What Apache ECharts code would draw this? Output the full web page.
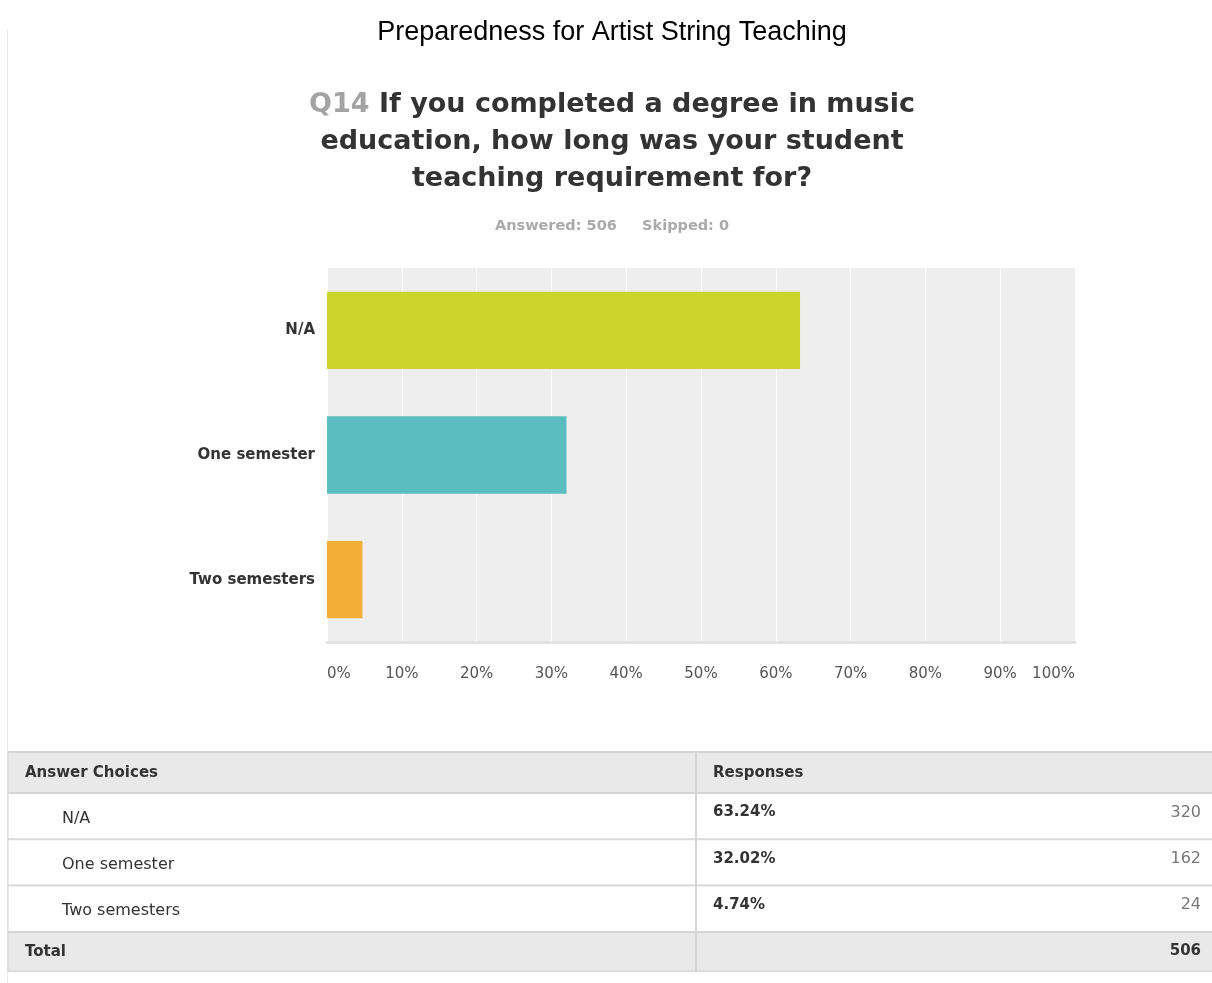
<!DOCTYPE html>
<html>
<head>
<meta charset="utf-8">
<script src="https://cdn.jsdelivr.net/npm/echarts@6/dist/echarts.min.js"></script>
<style>
  html, body { margin: 0; padding: 0; background: #ffffff; }
  #chart { width: 1212px; height: 983px; }
</style>
</head>
<body>
<div id="chart"></div>
<script>
// Survey question and summary
const chartTitle = 'Preparedness for Artist String Teaching';
const questionNo = 'Q14';
const questionLines = [
  'If you completed a degree in music',
  'education, how long was your student',
  'teaching requirement for?'
];
const answered = 506;
const skipped = 0;

// Answer choices and results
const categories = ['N/A', 'One semester', 'Two semesters'];
const percents = [63.24, 32.02, 4.74];
const counts = [320, 162, 24];
const total = 506;
const barColors = ['#cdd42c', '#5bbdbf', '#f2ae36'];

// Table headings
const tableHeads = ['Answer Choices', 'Responses'];
const totalLabel = 'Total';

const FONT = '"DejaVu Sans", sans-serif';
const chart = echarts.init(document.getElementById('chart'), null, { renderer: 'canvas' });

// ---- text block above the plot ----
const graphics = [];
graphics.push({
  type: 'line', silent: true,
  shape: { x1: 7.5, y1: 30, x2: 7.5, y2: 983 },
  style: { stroke: '#ebebeb', lineWidth: 1 }
});
graphics.push({
  type: 'text', x: 612, y: 33,
  style: {
    text: chartTitle, font: '27px "Liberation Sans", Arial, sans-serif',
    fill: '#000', textAlign: 'center', textVerticalAlign: 'middle'
  }
});
questionLines.forEach((line, i) => {
  graphics.push({
    type: 'text', x: 612, y: 105 + i * 37,
    style: {
      text: i === 0 ? '{q|' + questionNo + ' }{b|' + line + '}' : '{b|' + line + '}',
      textAlign: 'center', textVerticalAlign: 'middle',
      rich: {
        q: { font: 'bold 27px ' + FONT, fill: '#a3a3a3' },
        b: { font: 'bold 27px ' + FONT, fill: '#333333' }
      }
    }
  });
});
graphics.push({
  type: 'text', x: 612, y: 226,
  style: {
    text: 'Answered: ' + answered + '     Skipped: ' + skipped,
    font: 'bold 14.5px ' + FONT, fill: '#aaaaaa',
    textAlign: 'center', textVerticalAlign: 'middle'
  }
});

// ---- response table ----
const tLeft = 8, tRight = 1212, colX = 696;
const headTop = 752, headH = 41, rowH = 46.3;
const rowsTop = headTop + headH;
const totalTop = rowsTop + rowH * categories.length;
const totalH = 39;
const BOLD = 'bold 15px ' + FONT;
const NORMAL = '16px ' + FONT;

function hLine(y, color, w) {
  graphics.push({ type: 'line', silent: true,
    shape: { x1: tLeft, y1: y, x2: tRight, y2: y },
    style: { stroke: color, lineWidth: w } });
}
function txt(x, y, s, font, fill, align) {
  graphics.push({ type: 'text', x: x, y: y,
    style: { text: s, font: font, fill: fill, textAlign: align || 'left', textVerticalAlign: 'middle' } });
}

graphics.push({ type: 'rect', silent: true,
  shape: { x: tLeft, y: headTop, width: tRight - tLeft, height: headH },
  style: { fill: '#e9e9e9' } });
graphics.push({ type: 'rect', silent: true,
  shape: { x: tLeft, y: totalTop, width: tRight - tLeft, height: totalH },
  style: { fill: '#e9e9e9' } });
hLine(headTop, '#d4d4d4', 2);
hLine(rowsTop, '#d4d4d4', 2);
for (let i = 1; i < categories.length; i++) hLine(rowsTop + rowH * i, '#d9d9d9', 2);
hLine(totalTop, '#d4d4d4', 2);
hLine(totalTop + totalH, '#dcdcdc', 2);
graphics.push({ type: 'line', silent: true,
  shape: { x1: colX, y1: headTop, x2: colX, y2: totalTop + totalH },
  style: { stroke: '#d6d6d6', lineWidth: 2 } });
graphics.push({ type: 'line', silent: true,
  shape: { x1: tLeft, y1: headTop, x2: tLeft, y2: totalTop + totalH },
  style: { stroke: '#d6d6d6', lineWidth: 1 } });

txt(25, headTop + headH / 2 + 1, tableHeads[0], BOLD, '#333');
txt(713, headTop + headH / 2 + 1, tableHeads[1], BOLD, '#333');
categories.forEach((c, i) => {
  const top = rowsTop + rowH * i;
  txt(62, top + rowH * 0.55, c, NORMAL, '#333');
  txt(713, top + rowH * 0.42, percents[i].toFixed(2) + '%', BOLD, '#333');
  txt(1201, top + rowH * 0.42, String(counts[i]), NORMAL, '#777', 'right');
});
txt(25, totalTop + totalH / 2 + 1, totalLabel, BOLD, '#333');
txt(1201, totalTop + totalH / 2, String(total), BOLD, '#333', 'right');

const option = {
  animation: false,
  backgroundColor: '#ffffff',
  grid: {
    left: 327, right: 137, top: 268, bottom: 341,
    show: true, backgroundColor: '#eeeeee', borderWidth: 0
  },
  xAxis: {
    type: 'value', min: 0, max: 100, interval: 10,
    axisLine: { show: true, lineStyle: { color: '#e3e3e3', width: 3 } },
    axisTick: { show: false },
    splitLine: { show: true, lineStyle: { color: '#ffffff', width: 1 } },
    axisLabel: {
      formatter: '{value}%', margin: 25,
      fontFamily: FONT, fontSize: 15, color: '#555',
      alignMinLabel: 'left', alignMaxLabel: 'right'
    }
  },
  yAxis: {
    type: 'category', data: categories, inverse: true,
    axisLine: { show: false }, axisTick: { show: false },
    splitLine: { show: false },
    axisLabel: { margin: 12, fontFamily: FONT, fontSize: 15, fontWeight: 'bold', color: '#333' }
  },
  series: [{
    type: 'bar',
    data: percents.map((v, i) => ({ value: v, itemStyle: { color: barColors[i] } })),
    barCategoryGap: '38%'
  }],
  graphic: graphics
};
chart.setOption(option);
</script>
</body>
</html>
